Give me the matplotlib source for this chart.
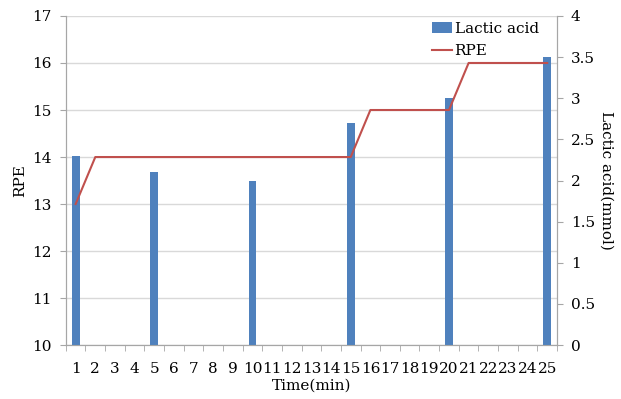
import matplotlib.pyplot as plt

plt.rcParams['font.family'] = ['DejaVu Serif']
plt.rcParams['font.size'] = 11

minutes = list(range(1, 26))
rpe = [13, 14, 14, 14, 14, 14, 14, 14, 14, 14, 14, 14, 14, 14, 14,
       15, 15, 15, 15, 15, 16, 16, 16, 16, 16]
lactic_minutes = [1, 5, 10, 15, 20, 25]
lactic = [2.3, 2.1, 2.0, 2.7, 3.0, 3.5]

bar_color = '#4F81BD'
line_color = '#C0504D'
axis_color = '#A6A6A6'

fig = plt.figure(figsize=(6.21, 3.99), dpi=100)
ax1 = fig.add_axes([0.106, 0.135, 0.791, 0.825])
ax2 = ax1.twinx()

ax1.set_xlim(0.5, 25.5)
ax1.set_ylim(10, 17)
ax1.set_yticks(range(10, 18))
ax1.grid(axis='y', color='#D9D9D9', linewidth=1)
ax1.set_axisbelow(True)
ax1.set_xticks(minutes)
ax1.set_xticks([m + 0.5 for m in range(0, 26)], minor=True)
ax1.tick_params(axis='x', which='major', length=0, pad=12)
ax1.tick_params(axis='x', which='minor', length=4, color=axis_color)
ax1.tick_params(axis='y', length=4, color=axis_color, pad=6)

ax2.set_ylim(0, 4)
ax2.set_yticks([0, 0.5, 1, 1.5, 2, 2.5, 3, 3.5, 4])
ax2.set_yticklabels(['0', '0.5', '1', '1.5', '2', '2.5', '3', '3.5', '4'])
ax2.tick_params(axis='y', length=4, color=axis_color, pad=6)

for a in (ax1, ax2):
    for s in a.spines.values():
        s.set_color(axis_color)
    a.spines['top'].set_visible(False)

bars = ax2.bar(lactic_minutes, lactic, width=0.4, color=bar_color,
               label='Lactic acid', zorder=2)
line, = ax2.plot(minutes, rpe, color=line_color, linewidth=1.5,
                 label='RPE', transform=ax1.transData, zorder=3)
ax2.set_ylim(0, 4)

ax1.set_xlabel('Time(min)', labelpad=2)
ax1.set_ylabel('RPE', labelpad=4)
ax2.set_ylabel('Lactic acid(mmol)', rotation=-90, labelpad=13)

ax2.legend(handles=[bars, line], loc='upper right', frameon=False,
           bbox_to_anchor=(0.975, 1.0), handlelength=1.3, handletextpad=0.15,
           labelspacing=0.55, borderaxespad=0)

fig.savefig('out.png', dpi=100)
